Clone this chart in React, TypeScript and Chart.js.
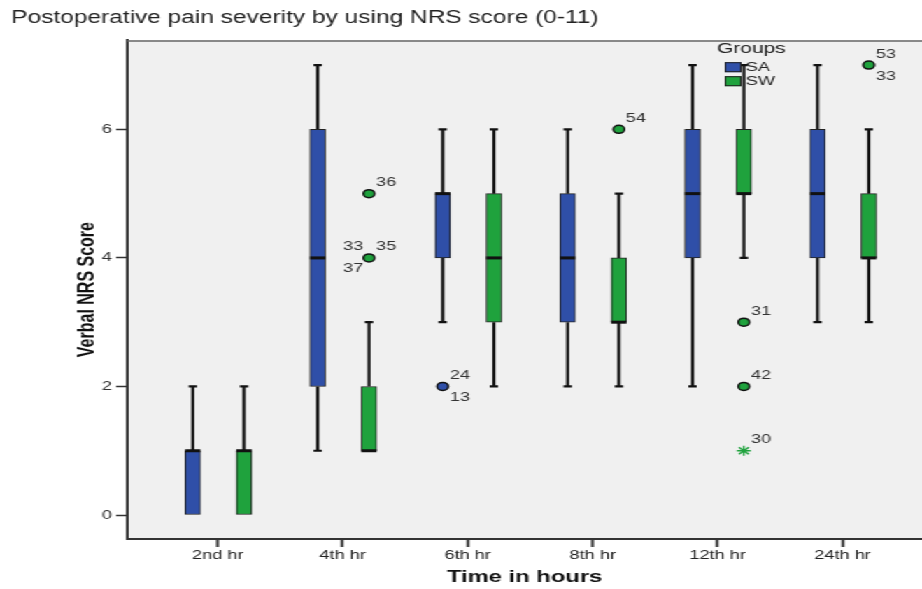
import React, { useEffect, useRef } from 'react';
import { Chart, registerables } from 'chart.js';

Chart.register(...registerables);

// ---------------- data ----------------
const categories = ['2nd hr', '4th hr', '6th hr', '8th hr', '12th hr', '24th hr'];
const groups = ['SA', 'SW'];
const yTickValues = [0, 2, 4, 6];

const saMin = [0, 1, 3, 2, 2, 3];
const saQ1 = [0, 2, 4, 3, 4, 4];
const saMedian = [1, 4, 5, 4, 5, 5];
const saQ3 = [1, 6, 5, 5, 6, 6];
const saMax = [2, 7, 6, 6, 7, 7];

const swMin = [0, 1, 2, 2, 4, 3];
const swQ1 = [0, 1, 3, 3, 5, 4];
const swMedian = [1, 1, 4, 3, 5, 4];
const swQ3 = [1, 2, 5, 4, 6, 5];
const swMax = [2, 3, 6, 5, 7, 6];

const saOutlierCat = [2];
const saOutlierVal = [2];
const saOutlierIds = [['24', '13']];

const swOutlierCat = [1, 1, 3, 4, 4, 5];
const swOutlierVal = [5, 4, 6, 3, 2, 7];
const swOutlierIds = [['36'], ['33', '35', '37'], ['54'], ['31'], ['42'], ['53', '33']];

const swExtremeCat = [4];
const swExtremeVal = [1];
const swExtremeIds = [['30']];

// ---------------- style ----------------
const W = 659;
const H = 589;
const STRETCH = 922 / W;
const OFFSET = [-0.2, 0.21];
const COLORS = ['#2F4FA8', '#1FA23D'];
const BOX_W = 11;
const FONT = 'Arial, "Liberation Sans", sans-serif';

const stats = [
  { min: saMin, q1: saQ1, med: saMedian, q3: saQ3, max: saMax },
  { min: swMin, q1: swQ1, med: swMedian, q3: swQ3, max: swMax },
];

const labelSets = [
  { g: 0, cat: saOutlierCat, val: saOutlierVal, ids: saOutlierIds },
  { g: 1, cat: swOutlierCat, val: swOutlierVal, ids: swOutlierIds },
  { g: 1, cat: swExtremeCat, val: swExtremeVal, ids: swExtremeIds },
];

const boxPlugin = {
  id: 'boxDecor',
  beforeDraw(chart: any) {
    const { ctx, chartArea: a } = chart;
    ctx.save();
    ctx.fillStyle = '#F0F0F0';
    ctx.fillRect(a.left, a.top, a.right - a.left, a.bottom - a.top);
    ctx.restore();
  },
  beforeDatasetsDraw(chart: any) {
    const { ctx } = chart;
    const xs = chart.scales.x;
    const ys = chart.scales.y;
    ctx.save();
    ctx.strokeStyle = '#111';
    ctx.lineWidth = 2.2;
    stats.forEach((s, g) => {
      categories.forEach((_, i) => {
        const x = xs.getPixelForValue(i + OFFSET[g]);
        const yMin = ys.getPixelForValue(s.min[i]);
        const yQ1 = ys.getPixelForValue(s.q1[i]);
        const yQ3 = ys.getPixelForValue(s.q3[i]);
        const yMax = ys.getPixelForValue(s.max[i]);
        ctx.beginPath();
        if (s.max[i] > s.q3[i]) {
          ctx.moveTo(x, yQ3);
          ctx.lineTo(x, yMax);
          ctx.moveTo(x - 3, yMax);
          ctx.lineTo(x + 3, yMax);
        }
        if (s.min[i] < s.q1[i]) {
          ctx.moveTo(x, yQ1);
          ctx.lineTo(x, yMin);
          ctx.moveTo(x - 3, yMin);
          ctx.lineTo(x + 3, yMin);
        }
        ctx.stroke();
      });
    });
    ctx.restore();
  },
  afterDatasetsDraw(chart: any) {
    const { ctx } = chart;
    const xs = chart.scales.x;
    const ys = chart.scales.y;
    ctx.save();
    ctx.strokeStyle = '#111';
    ctx.lineWidth = 3;
    stats.forEach((s, g) => {
      categories.forEach((_, i) => {
        const x = xs.getPixelForValue(i + OFFSET[g]);
        const y = ys.getPixelForValue(s.med[i]);
        ctx.beginPath();
        ctx.moveTo(x - BOX_W / 2, y);
        ctx.lineTo(x + BOX_W / 2, y);
        ctx.stroke();
      });
    });
    // case labels
    ctx.font = `13px ${FONT}`;
    ctx.fillStyle = '#333';
    ctx.textBaseline = 'middle';
    const layouts: Record<number, string[]> = {
      1: ['UR'],
      2: ['UR', 'LR'],
      3: ['UL', 'UR', 'LL'],
    };
    labelSets.forEach((set) => {
      set.cat.forEach((c, k) => {
        const x = xs.getPixelForValue(c + OFFSET[set.g]);
        const y = ys.getPixelForValue(set.val[k]);
        const ids = set.ids[k];
        const pos = layouts[ids.length] || layouts[1];
        ids.forEach((id, j) => {
          const p = pos[j];
          const right = p[1] === 'R';
          const up = p[0] === 'U';
          ctx.textAlign = right ? 'left' : 'right';
          ctx.fillText(id, x + (right ? 5 : -4), y + (up ? -11 : 11));
        });
      });
    });
    ctx.restore();
  },
  afterDraw(chart: any) {
    const { ctx, chartArea: a } = chart;
    ctx.save();
    // top frame line
    ctx.strokeStyle = '#666';
    ctx.lineWidth = 1.5;
    ctx.beginPath();
    ctx.moveTo(a.left, a.top + 0.75);
    ctx.lineTo(a.right, a.top + 0.75);
    ctx.stroke();
    // legend
    const lx = a.left + 427;
    ctx.fillStyle = '#222';
    ctx.font = `15px ${FONT}`;
    ctx.textAlign = 'center';
    ctx.textBaseline = 'middle';
    ctx.fillText('Groups', lx + 19, a.top + 9);
    ctx.font = `13px ${FONT}`;
    ctx.textAlign = 'left';
    groups.forEach((gName, g) => {
      const ty = a.top + 22 + g * 14;
      ctx.fillStyle = COLORS[g];
      ctx.fillRect(lx, ty, 12, 10);
      ctx.strokeStyle = '#222';
      ctx.lineWidth = 1;
      ctx.strokeRect(lx + 0.5, ty + 0.5, 11, 9);
      ctx.fillStyle = '#222';
      ctx.fillText(gName, lx + 15, ty + 5);
    });
    ctx.restore();
  },
};

export default function App() {
  const ref = useRef<HTMLCanvasElement | null>(null);

  useEffect(() => {
    if (!ref.current) return;
    const boxDatasets = stats.map((s, g) => ({
      type: 'bar' as const,
      label: groups[g],
      data: categories.map((_, i) => ({ x: i + OFFSET[g], y: [s.q1[i], s.q3[i]] })),
      backgroundColor: COLORS[g],
      borderColor: '#222',
      borderWidth: 1,
      borderSkipped: false,
      barThickness: BOX_W,
      grouped: false,
      order: 2,
    }));
    const outlierDatasets = [
      {
        type: 'scatter' as const,
        label: 'SA outliers',
        data: saOutlierCat.map((c, k) => ({ x: c + OFFSET[0], y: saOutlierVal[k] })),
        pointRadius: 4,
        pointBackgroundColor: COLORS[0],
        pointBorderColor: '#111',
        pointBorderWidth: 1.5,
        order: 1,
      },
      {
        type: 'scatter' as const,
        label: 'SW outliers',
        data: swOutlierCat.map((c, k) => ({ x: c + OFFSET[1], y: swOutlierVal[k] })),
        pointRadius: 4,
        pointBackgroundColor: COLORS[1],
        pointBorderColor: '#111',
        pointBorderWidth: 1.5,
        order: 1,
      },
      {
        type: 'scatter' as const,
        label: 'SW extremes',
        data: swExtremeCat.map((c, k) => ({ x: c + OFFSET[1], y: swExtremeVal[k] })),
        pointStyle: 'star',
        pointRadius: 5,
        pointBackgroundColor: COLORS[1],
        pointBorderColor: COLORS[1],
        pointBorderWidth: 1.3,
        order: 1,
      },
    ];

    const chart = new Chart(ref.current, {
      type: 'bar',
      data: { datasets: [...boxDatasets, ...outlierDatasets] as any },
      options: {
        responsive: false,
        animation: false,
        devicePixelRatio: 1,
        layout: { autoPadding: false, padding: { left: 8, right: 0, top: 0, bottom: 0 } },
        plugins: {
          legend: { display: false },
          tooltip: { enabled: false },
          title: {
            display: true,
            text: 'Postoperative pain severity by using NRS score (0-11)',
            align: 'start',
            color: '#222',
            font: { family: FONT, size: 17.5, weight: 'normal' },
            padding: { top: 8, bottom: 11.2 },
          },
        },
        scales: {
          x: {
            type: 'linear',
            offset: false,
            min: -0.724,
            max: 5.636,
            afterBuildTicks: (s: any) => {
              s.ticks = categories.map((_, i) => ({ value: i }));
            },
            afterFit: (s: any) => {
              s.height = 50;
              s.paddingLeft = 0;
              s.paddingRight = 0;
            },
            ticks: {
              callback: (v: any) => categories[v] ?? '',
              color: '#222',
              font: { family: FONT, size: 13 },
              padding: 1,
              autoSkip: false,
              maxRotation: 0,
            },
            grid: {
              display: true,
              offset: false,
              drawOnChartArea: false,
              drawTicks: true,
              tickLength: 8,
              tickWidth: 2,
              tickColor: '#333',
            },
            border: { display: true, color: '#333', width: 2 },
            title: {
              display: true,
              text: 'Time in hours',
              color: '#111',
              font: { family: FONT, size: 17, weight: 'bold' },
              padding: { top: 0, bottom: 1 },
            },
          },
          y: {
            type: 'linear',
            min: -0.373,
            max: 7.387,
            afterBuildTicks: (s: any) => {
              s.ticks = yTickValues.map((v) => ({ value: v }));
            },
            afterFit: (s: any) => {
              s.width = 83;
              s.paddingTop = 0;
              s.paddingBottom = 0;
            },
            ticks: {
              color: '#333',
              font: { family: FONT, size: 13 },
              padding: 3,
            },
            grid: {
              display: true,
              drawOnChartArea: false,
              drawTicks: true,
              tickLength: 8,
              tickWidth: 1.5,
              tickColor: '#333',
            },
            border: { display: true, color: '#333', width: 2 },
            title: {
              display: true,
              text: 'Verbal NRS Score',
              color: '#111',
              font: { family: FONT, size: 16, weight: 'bold' },
              padding: { top: 45, bottom: 0 },
            },
          },
        },
      } as any,
      plugins: [boxPlugin],
    });
    return () => chart.destroy();
  }, []);

  return (
    <div
      style={{
        position: 'fixed',
        left: 0,
        top: 0,
        width: W,
        height: H,
        background: '#fff',
        transform: `scaleX(${STRETCH})`,
        transformOrigin: '0 0',
      }}
    >
      <canvas ref={ref} width={W} height={H} style={{ display: 'block' }} />
    </div>
  );
}
